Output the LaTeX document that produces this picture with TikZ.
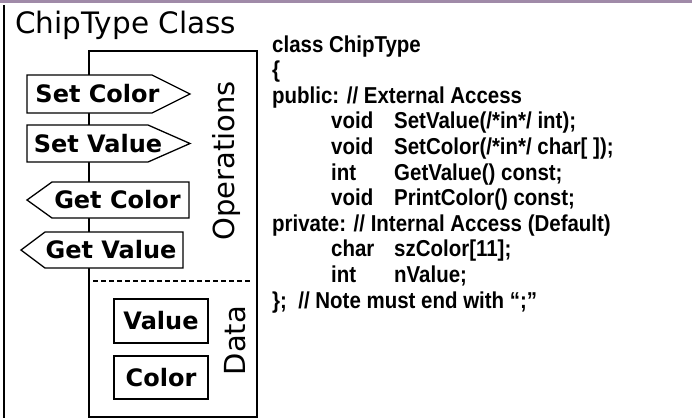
\documentclass[tikz,border=0pt]{standalone}
\usepackage{fontspec}
\setmainfont{Liberation Sans}
\newfontfamily\verd{DejaVu Sans}
\newfontfamily\codefont[FakeStretch=0.89]{Liberation Sans Bold}
\definecolor{bandcol}{RGB}{160,138,168}
\begin{document}
\begin{tikzpicture}[x=1pt,y=-1pt,
  frameline/.style={line width=1.3pt, draw=black},
  tag/.style={draw=black, line width=1.3pt, fill=white, line join=miter},
  tagtext/.style={font=\verd\bfseries\fontsize{24}{28}\selectfont, inner sep=0pt},
  sidelabel/.style={font=\verd\fontsize{29}{31}\selectfont, inner sep=0pt, rotate=90, anchor=base},
  code/.style={font=\codefont\fontsize{23}{25}\selectfont, inner sep=0pt, anchor=base west}]
\useasboundingbox (0,0) rectangle (692,418);
\fill[white] (0,0) rectangle (692,418);

% top band and left edge of the slide frame
\fill[bandcol] (0,0) rectangle (692,2.5);
\draw[line width=2pt] (4,5) -- (4,418);

% title
\node[anchor=base west, font=\verd\fontsize{29.5}{31}\selectfont, inner sep=0pt] (title) at (15,33) {ChipType Class};

% class body
\draw[frameline] (89,51) rectangle (257,417);
\draw[line width=1.3pt, dash pattern=on 4.5pt off 3.5pt] (93,281) -- (253,281);

% public operations
\draw[tag] (27,75) -- (152,75) -- (190,94) -- (152,113) -- (27,113) -- cycle;
\node[tagtext] (setcolor) at (97.5,94) {Set Color};
\draw[tag] (27,125) -- (148,125) -- (190,143.5) -- (148,162) -- (27,162) -- cycle;
\node[tagtext] (setvalue) at (98,143.5) {Set Value};
\draw[tag] (52,182) -- (189,182) -- (189,218) -- (52,218) -- (27,200) -- cycle;
\node[tagtext] (getcolor) at (117.5,200) {Get Color};
\draw[tag] (45,232) -- (183,232) -- (183,268) -- (45,268) -- (21,250) -- cycle;
\node[tagtext] (getvalue) at (111,250) {Get Value};

% private data
\node[draw=black, line width=1.3pt, minimum width=94pt, minimum height=44pt, tagtext] (value) at (161,321) {Value};
\node[draw=black, line width=1.3pt, minimum width=94pt, minimum height=43pt, tagtext] (color) at (161,377.5) {Color};

\node[sidelabel] (ops) at (234,161) {Operations};
\node[sidelabel] (data) at (245,340.5) {Data};

% declaration
\node[code] (l1) at (272,52) {class ChipType};
\node[code] (l2) at (272,77.6) {\{};
\node[code] (l3) at (272,103.2) {public: // External Access};
\node[code] (l4a) at (331,128.8) {void};
\node[code] (l4b) at (394,128.8) {SetValue(/*in*/ int);};
\node[code] (l5a) at (331,154.4) {void};
\node[code] (l5b) at (394,154.4) {SetColor(/*in*/ char[ ]);};
\node[code] (l6a) at (331,180) {int};
\node[code] (l6b) at (394,180) {GetValue() const;};
\node[code] (l7a) at (331,205.6) {void};
\node[code] (l7b) at (394,205.6) {PrintColor() const;};
\node[code] (l8) at (272,231.2) {private: // Internal Access (Default)};
\node[code] (l9a) at (331,256.8) {char};
\node[code] (l9b) at (394,256.8) {szColor[11];};
\node[code] (l10a) at (331,282.4) {int};
\node[code] (l10b) at (394,282.4) {nValue;};
\node[code] (l11) at (272,308) {\};\ \ // Note must end with “;”};
\end{tikzpicture}
\end{document}
